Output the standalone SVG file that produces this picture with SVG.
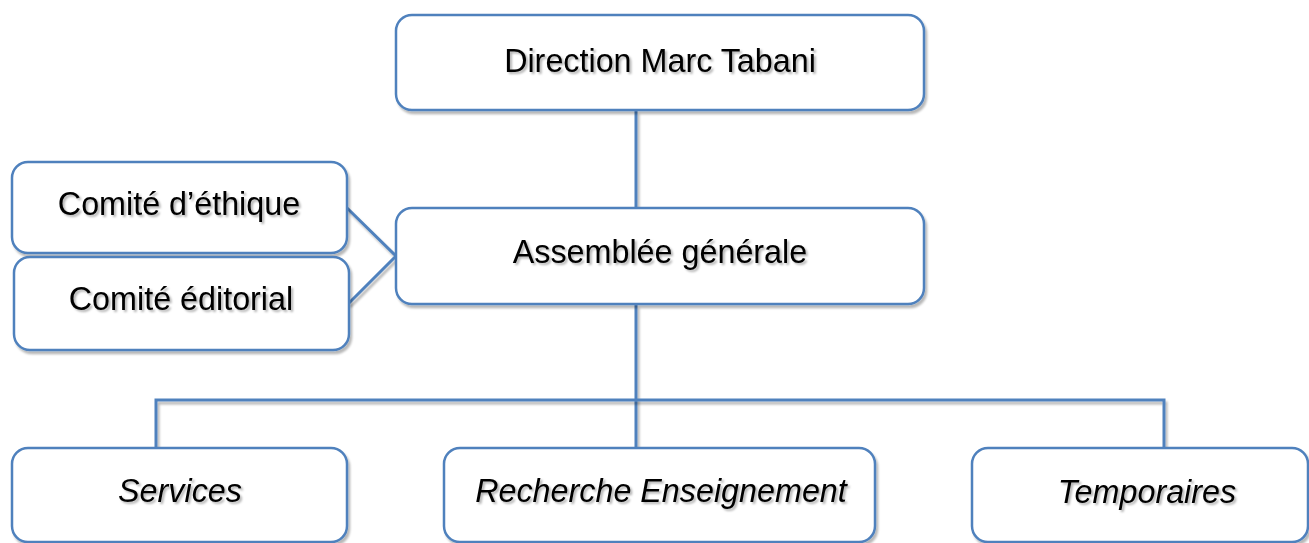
<svg xmlns="http://www.w3.org/2000/svg" width="1309" height="543" viewBox="0 0 1309 543">
<defs>
<filter id="sh" filterUnits="userSpaceOnUse" x="0" y="0" width="1309" height="543">
<feDropShadow dx="2" dy="3" stdDeviation="0.8" flood-color="#000" flood-opacity="0.28"/>
</filter>
<filter id="tsh" filterUnits="userSpaceOnUse" x="0" y="0" width="1309" height="543">
<feDropShadow dx="2" dy="2" stdDeviation="0.8" flood-color="#000" flood-opacity="0.3"/>
</filter>
</defs>
<style>
.box{fill:#fff;stroke:#4F81BD;stroke-width:2.5;filter:url(#sh)}
.lbl{font-family:"Liberation Sans",Arial,sans-serif;font-size:32.3px;fill:#000;text-anchor:middle;filter:url(#tsh)}
.it{font-style:italic}
.con{fill:none;stroke:#4F81BD;stroke-width:3;filter:url(#sh)}
</style>
<rect width="1309" height="543" fill="#fff"/>
<g id="connectors">
<line class="con" x1="636" y1="111" x2="636" y2="207"/>
<line class="con" x1="636" y1="305" x2="636" y2="447"/>
<polyline class="con" points="156,448 156,400 1164,400 1164,448"/>
<polyline class="con" points="347,208 396,256 348,304"/>
</g>
<g id="direction">
<rect class="box" x="396" y="15" width="528" height="95" rx="16"/>
<text class="lbl" x="660" y="72">Direction Marc Tabani</text>
</g>
<g id="assemblee">
<rect class="box" x="396" y="208" width="528" height="96" rx="16"/>
<text class="lbl" x="660" y="263">Assemblée générale</text>
</g>
<g id="comite-ethique">
<rect class="box" x="12" y="162" width="335" height="91" rx="16"/>
<text class="lbl" x="179" y="215">Comité d’éthique</text>
</g>
<g id="comite-editorial">
<rect class="box" x="14" y="257" width="335" height="93" rx="16"/>
<text class="lbl" x="181" y="310">Comité éditorial</text>
</g>
<g id="services">
<rect class="box" x="12" y="448" width="335" height="94" rx="16"/>
<text class="lbl it" x="180" y="502">Services</text>
</g>
<g id="recherche">
<rect class="box" x="444" y="448" width="431" height="94" rx="16"/>
<text class="lbl it" x="661" y="502">Recherche Enseignement</text>
</g>
<g id="temporaires">
<rect class="box" x="972" y="448" width="336" height="94" rx="16"/>
<text class="lbl it" x="1147" y="503">Temporaires</text>
</g>
</svg>
